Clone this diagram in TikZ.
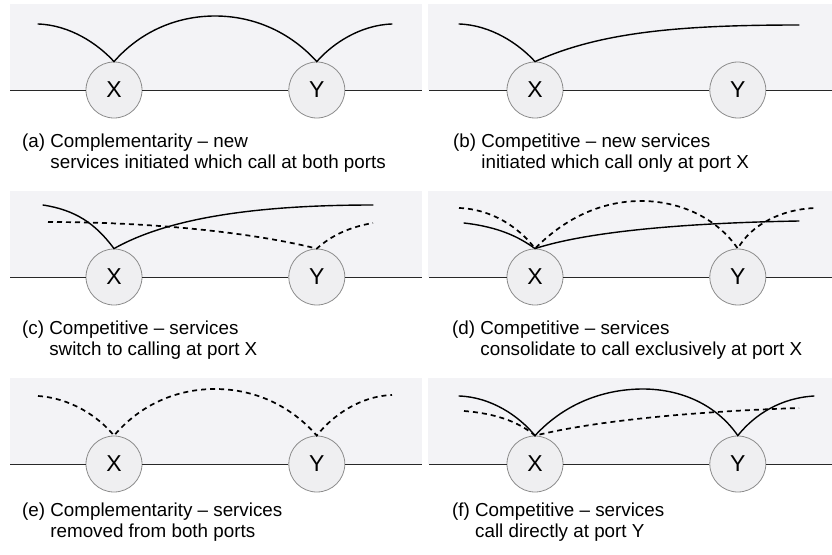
\documentclass[tikz,border=0pt]{standalone}
\usepackage{fontspec}
\setmainfont{Liberation Sans}
\usetikzlibrary{positioning}

\definecolor{panelgray}{RGB}{243,243,246}
\definecolor{portfill}{RGB}{239,239,241}
\definecolor{portline}{RGB}{140,140,140}
\definecolor{trackline}{RGB}{40,40,40}

\tikzset{
  port/.style={circle, draw=portline, fill=portfill, line width=0.8pt,
    minimum size=56pt, inner sep=0pt, font=\fontsize{23}{23}\selectfont},
  track/.style={draw=trackline, line width=1pt},
  panel/.style={fill=panelgray},
  newcall/.style={draw=black, line width=1.4pt, line cap=round},
  oldcall/.style={newcall, line width=1.7pt, line cap=butt, dash pattern=on 5pt off 4pt},
  caption/.style={anchor=base west, inner sep=0pt, font=\fontsize{18.8}{21}\selectfont},
}

\begin{document}
\begin{tikzpicture}[x=1pt, y=-1pt]
 \useasboundingbox (0,0) rectangle (832,554);

 % (a) complementarity, new services
 \begin{scope}
  \fill[panel] (10,4) rectangle (422,90);
  \coordinate (aW) at (10,90);
  \coordinate (aE) at (422,90);
  \node[port] (aX) at (114,90) {X};
  \node[port, right=146pt of aX] (aY) {Y};
  \draw[track] (aW) -- (aX) -- (aY) -- (aE);
  \coordinate (aL) at (38,24);
  \coordinate (aR) at (392,24);
  \draw[newcall] (aL) .. controls (70,25) and (98,44) .. (aX.north)
   .. controls (140,32) and (176,16) .. (215,16)
   .. controls (254,16) and (290,32) .. (aY.north)
   .. controls (332,44) and (360,25) .. (aR);
  \node[caption] (aT) at (22,147) {(a) Complementarity – new};
  \node[caption] (aT2) at (22,168) {\phantom{(a) }services initiated which call at both ports};
 \end{scope}

 % (b) competitive, new services at X only
 \begin{scope}[shift={(421,0)}]
  \fill[panel] (7,4) rectangle (411,90);
  \coordinate (bW) at (8,90);
  \coordinate (bE) at (411,90);
  \node[port] (bX) at (114,90) {X};
  \node[port, right=146pt of bX] (bY) {Y};
  \draw[track] (bW) -- (bX) -- (bY) -- (bE);
  \coordinate (bL) at (38,24);
  \coordinate (bR) at (378,25);
  \draw[newcall] (bL) .. controls (70,25) and (98,44) .. (bX.north)
   .. controls (179,32) and (259,25) .. (bR);
  \node[caption] (bT) at (32,147) {(b) Competitive – new services};
  \node[caption] (bT2) at (32,168) {\phantom{(b) }initiated which call only at port X};
 \end{scope}

 % (c) competitive, switch to X
 \begin{scope}[shift={(0,187)}]
  \fill[panel] (10,4) rectangle (422,90);
  \coordinate (cW) at (10,90);
  \coordinate (cE) at (422,90);
  \node[port] (cX) at (114,90) {X};
  \node[port, right=146pt of cX] (cY) {Y};
  \draw[track] (cW) -- (cX) -- (cY) -- (cE);
  \coordinate (cL) at (43,18);
  \coordinate (cR) at (373,18);
  \coordinate (cL2) at (48,35);
  \coordinate (cR2) at (373,36);
  \draw[oldcall] (cL2) .. controls (150,35) and (250,45) .. (cY.north)
   .. controls (332,48) and (350,40) .. (cR2);
  \draw[newcall] (cL) .. controls (75,23) and (95,36) .. (cX.north)
   .. controls (170,30) and (260,18) .. (cR);
  \node[caption] (cT) at (22,147) {(c) Competitive – services};
  \node[caption] (cT2) at (22,168) {\phantom{(c) }switch to calling at port X};
 \end{scope}

 % (d) competitive, consolidate at X
 \begin{scope}[shift={(421,187)}]
  \fill[panel] (7,4) rectangle (411,90);
  \coordinate (dW) at (8,90);
  \coordinate (dE) at (411,90);
  \node[port] (dX) at (114,90) {X};
  \node[port, right=146pt of dX] (dY) {Y};
  \draw[track] (dW) -- (dX) -- (dY) -- (dE);
  \coordinate (dL) at (43,36);
  \coordinate (dR) at (378,34);
  \coordinate (dL2) at (38,21);
  \coordinate (dR2) at (395,21);
  \draw[oldcall] (dL2) .. controls (70,22) and (98,40) .. (dX.north)
   .. controls (145,30) and (182,14) .. (220,14)
   .. controls (258,14) and (295,30) .. (dY.north)
   .. controls (330,38) and (360,22) .. (dR2);
  \draw[newcall] (dL) .. controls (78,40) and (98,50) .. (dX.north)
   .. controls (165,45) and (260,36) .. (dR);
  \node[caption] (dT) at (31,147) {(d) Competitive – services};
  \node[caption] (dT2) at (31,168) {\phantom{(d) }consolidate to call exclusively at port X};
 \end{scope}

 % (e) complementarity, services removed
 \begin{scope}[shift={(0,374)}]
  \fill[panel] (10,4) rectangle (422,90);
  \coordinate (eW) at (10,90);
  \coordinate (eE) at (422,90);
  \node[port] (eX) at (114,90) {X};
  \node[port, right=146pt of eX] (eY) {Y};
  \draw[track] (eW) -- (eX) -- (eY) -- (eE);
  \coordinate (eL) at (38,22);
  \coordinate (eR) at (392,21);
  \draw[oldcall] (eL) .. controls (70,24) and (98,42) .. (eX.north)
   .. controls (140,31) and (176,15) .. (215,15)
   .. controls (254,15) and (290,31) .. (eY.north)
   .. controls (332,42) and (360,22) .. (eR);
  \node[caption] (eT) at (22,142) {(e) Complementarity – services};
  \node[caption] (eT2) at (22,163) {\phantom{(e) }removed from both ports};
 \end{scope}

 % (f) competitive, direct call at Y
 \begin{scope}[shift={(421,374)}]
  \fill[panel] (7,4) rectangle (411,90);
  \coordinate (fW) at (8,90);
  \coordinate (fE) at (411,90);
  \node[port] (fX) at (114,90) {X};
  \node[port, right=146pt of fX] (fY) {Y};
  \draw[track] (fW) -- (fX) -- (fY) -- (fE);
  \coordinate (fL) at (38,22);
  \coordinate (fR) at (393,22);
  \coordinate (fL2) at (43,37);
  \coordinate (fR2) at (378,34);
  \draw[oldcall] (fL2) .. controls (80,40) and (100,50) .. (fX.north)
   .. controls (170,48) and (260,38) .. (fR2);
  \draw[newcall] (fL) .. controls (70,23) and (98,42) .. (fX.north)
   .. controls (145,28) and (185,15) .. (222,15)
   .. controls (259,15) and (295,30) .. (fY.north)
   .. controls (334,40) and (360,24) .. (fR);
  \node[caption] (fT) at (31,142) {(f) Competitive – services};
  \node[caption] (fT2) at (31,163) {\phantom{(f) }call directly at port Y};
 \end{scope}
\end{tikzpicture}
\end{document}
